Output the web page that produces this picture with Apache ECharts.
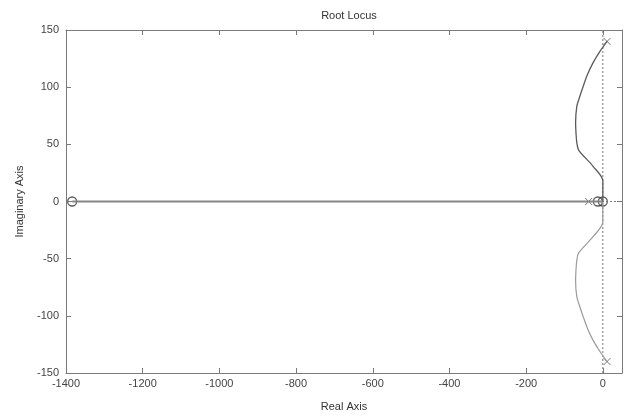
<!DOCTYPE html>
<html>
<head>
<meta charset="utf-8">
<script src="https://cdn.jsdelivr.net/npm/echarts@6/dist/echarts.min.js"></script>
<style>
  html, body { margin: 0; padding: 0; background: #fff; }
  #main { width: 629px; height: 417px; }
</style>
</head>
<body>
<div id="main"></div>
<script>
// locus branches (real, imaginary)
var upperBranch = [[11, 140], [-8, 131], [-26, 121], [-40, 111], [-52, 100], [-61, 91], [-68, 83], [-71, 69],
    [-70, 60], [-68, 52], [-63, 45], [-26, 31], [0, 18], [0, 5], [0, 0]];
var lowerBranch = upperBranch.map(function (p) { return [p[0], -p[1]]; });
var realBranch = [[-1384, 0], [-37, 0], [0, 0]];
var poles = [[11, 140], [11, -140], [-37, 0]];
var zeros = [[-1384, 0], [-13, 0], [0, 0]];
var xTicks = [-1400, -1200, -1000, -800, -600, -400, -200, 0];
var yTicks = [-150, -100, -50, 0, 50, 100, 150];

var chart = echarts.init(document.getElementById('main'));
var axisColor = '#7a7a7a';
var font = 'Liberation Sans, Arial, sans-serif';

function xAx(pos, labels) {
    return {
        type: 'value', position: pos, min: -1400, max: 50,
        axisLine: { show: true, onZero: false, lineStyle: { color: axisColor, width: 1 } },
        axisTick: { show: true, inside: true, length: 5, customValues: xTicks, lineStyle: { color: axisColor } },
        axisLabel: {
            show: labels, customValues: xTicks, color: '#444', fontSize: 11, fontFamily: font, margin: 5,
            formatter: function (v) { return String(v); }
        },
        splitLine: { show: false }
    };
}
function yAx(pos, labels) {
    return {
        type: 'value', position: pos, min: -150, max: 150,
        axisLine: { show: true, onZero: false, lineStyle: { color: axisColor, width: 1 } },
        axisTick: { show: true, inside: true, length: 5, customValues: yTicks, lineStyle: { color: axisColor } },
        axisLabel: {
            show: labels, customValues: yTicks, color: '#444', fontSize: 11, fontFamily: font, margin: 7,
            formatter: function (v) { return String(v); }
        },
        splitLine: { show: false }
    };
}

var xBottom = xAx('bottom', true);
xBottom.name = 'Real Axis';
xBottom.nameLocation = 'middle';
xBottom.nameGap = 28;
xBottom.nameTextStyle = { color: '#333', fontSize: 11, fontFamily: font };
var yLeft = yAx('left', true);
yLeft.name = 'Imaginary Axis';
yLeft.nameLocation = 'middle';
yLeft.nameGap = 41;
yLeft.nameTextStyle = { color: '#333', fontSize: 11, fontFamily: font };

var crossSymbol = 'path://M0,0L10,10M10,0L0,10';

chart.setOption({
    animation: false,
    title: {
        text: 'Root Locus', left: 344, top: 5, textAlign: 'center',
        textStyle: { color: '#333', fontSize: 11, fontWeight: 'normal', fontFamily: font }
    },
    grid: { left: 66, right: 7, top: 30, bottom: 41 },
    xAxis: [xBottom, xAx('top', false)],
    yAxis: [yLeft, yAx('right', false)],
    series: [
        {
            type: 'line', data: [[0, -150], [0, 150]], symbol: 'none',
            lineStyle: { color: '#777', width: 1, type: [2, 2] }
        },
        {
            type: 'line', data: [[-1400, 0], [50, 0]], symbol: 'none',
            lineStyle: { color: '#777', width: 1, type: [2, 2] }
        },
        {
            type: 'line', data: realBranch, symbol: 'none',
            lineStyle: { color: '#858585', width: 1.8 }
        },
        {
            type: 'line', data: upperBranch, symbol: 'none', smooth: 0.3,
            lineStyle: { color: '#5a5a5a', width: 1.3 }
        },
        {
            type: 'line', data: lowerBranch, symbol: 'none', smooth: 0.3,
            lineStyle: { color: '#9a9a9a', width: 1.2 }
        },
        {
            type: 'scatter', data: poles, symbol: crossSymbol, symbolSize: 7,
            itemStyle: { color: 'none', borderColor: '#555', borderWidth: 1 }
        },
        {
            type: 'scatter', data: zeros, symbol: 'circle', symbolSize: 9,
            itemStyle: { color: 'none', borderColor: '#333', borderWidth: 1.3 }
        }
    ]
});
</script>
</body>
</html>
